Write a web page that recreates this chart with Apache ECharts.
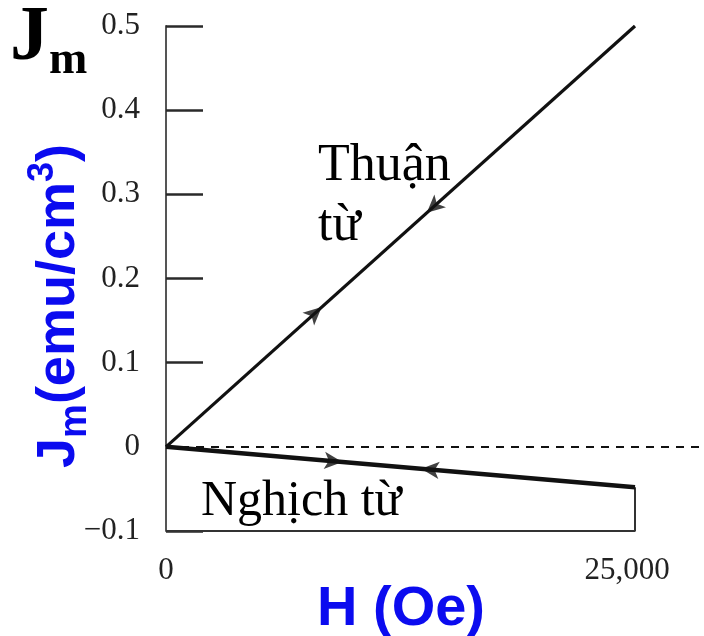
<!DOCTYPE html>
<html>
<head>
<meta charset="utf-8">
<script src="https://cdn.jsdelivr.net/npm/echarts@6/dist/echarts.min.js"></script>
<style>
  html, body { margin: 0; padding: 0; background: #fff; }
  #chart { width: 704px; height: 636px; }
</style>
</head>
<body>
<div id="chart"></div>
<script>
// Magnetisation J_m against applied field H: paramagnet (thuận từ) and diamagnet (nghịch từ)
const fieldH = [0, 25000];          // Oe
const paraJ = [0, 0.5];             // emu/cm3
const diaJ = [0, -0.048];           // emu/cm3
const yTickValues = [-0.1, 0.1, 0.2, 0.3, 0.4, 0.5];
const xLabelValues = [0, 25000];
const frameJ = -0.1;                // bottom edge of the box
// direction arrows on each curve: field where the arrow sits, +1 = increasing H, -1 = decreasing H
const paraArrowH = [8300, 13900];
const paraArrowDir = [1, -1];
const diaArrowH = [9400, 13600];
const diaArrowDir = [1, -1];

const BLUE = '#0b0bef';
const gridLeft = 166, gridRight = 0, gridTop = 26, gridBottom = 105;
const plotRightPx = 635;            // where 25,000 Oe falls
const xMax = fieldH[1] * (704 - gridRight - gridLeft) / (plotRightPx - gridLeft);

const chart = echarts.init(document.getElementById('chart'), null, { renderer: 'canvas' });

// text measuring for the hand-set labels (subscripts / superscripts)
const ctx = document.createElement('canvas').getContext('2d');
function fontStr(p) { return (p.weight || 'normal') + ' ' + p.size + 'px ' + "'" + p.family + "'"; }
function midToBaseline(p) {
  ctx.font = fontStr(p);
  ctx.textBaseline = 'middle';
  return ctx.measureText('H').actualBoundingBoxDescent;
}
function textWidth(p) { ctx.font = fontStr(p); return ctx.measureText(p.text).width; }
function run(pieces, x0, baseY) {
  let x = x0;
  const out = [];
  pieces.forEach(p => {
    out.push({
      type: 'text',
      x: x,
      y: baseY + (p.shift || 0) - midToBaseline(p),
      silent: true,
      style: {
        text: p.text, font: fontStr(p), fill: p.color,
        align: 'left', verticalAlign: 'middle',
        textAlign: 'left', textVerticalAlign: 'middle'
      }
    });
    x += textWidth(p) + (p.gap || 0);
  });
  return out;
}
function runWidth(pieces) { return pieces.reduce((s, p) => s + textWidth(p) + (p.gap || 0), 0); }

const serif = 'Liberation Serif', sans = 'Liberation Sans';

const yNamePieces = [
  { text: 'J', size: 54, weight: 'bold', family: sans, color: BLUE },
  { text: 'm', size: 38, weight: 'bold', family: sans, color: BLUE, shift: 12 },
  { text: '(emu/cm', size: 54, weight: 'bold', family: sans, color: BLUE },
  { text: '3', size: 36, weight: 'bold', family: sans, color: BLUE, shift: -21 },
  { text: ')', size: 54, weight: 'bold', family: sans, color: BLUE }
];
const xNamePieces = [{ text: 'H (Oe)', size: 56, weight: 'bold', family: sans, color: BLUE }];
const cornerPieces = [
  { text: 'J', size: 78, weight: 'bold', family: serif, color: '#000' },
  { text: 'm', size: 46, weight: 'bold', family: serif, color: '#000', shift: 14 }
];

const graphics = [].concat(
  run(cornerPieces, 10, 59),
  run([{ text: 'Thuận', size: 52, family: serif, color: '#000' }], 318, 180),
  run([{ text: 'từ', size: 52, family: serif, color: '#000' }], 318, 240),
  run([{ text: 'Nghịch từ', size: 50, family: serif, color: '#000' }], 201, 515),
  run(xNamePieces, 401 - runWidth(xNamePieces) / 2, 625),
  [{
    type: 'group', x: 74, y: 306 + runWidth(yNamePieces) / 2, rotation: Math.PI / 2,
    children: run(yNamePieces, 0, 0)
  }]
);

function lineJ(h, hs, js) {
  // point on the straight segment between the two end points
  return js[0] + (js[1] - js[0]) * (h - hs[0]) / (hs[1] - hs[0]);
}
function pairs(hs, js) { return hs.map((h, i) => [h, js[i]]); }

chart.setOption({
  animation: false,
  backgroundColor: '#fff',
  grid: { left: gridLeft, right: gridRight, top: gridTop, bottom: gridBottom, containLabel: false },
  xAxis: {
    type: 'value', min: 0, max: xMax, interval: 25000,
    axisLine: { show: false }, axisTick: { show: false }, splitLine: { show: false },
    axisLabel: {
      customValues: xLabelValues,
      margin: 24, fontFamily: serif, fontSize: 31, color: '#222',
      formatter: v => v > 0 ? '{r|' + Math.round(v).toLocaleString('en-US') + '}' : String(Math.round(v)),
      rich: { r: { fontFamily: serif, fontSize: 31, color: '#222', padding: [0, 16, 0, 0] } }
    }
  },
  yAxis: {
    type: 'value', min: -0.1, max: 0.5, interval: 0.1,
    axisLine: { show: true, lineStyle: { color: '#555', width: 2 } },
    axisTick: { show: true, inside: true, length: 37, customValues: yTickValues,
                lineStyle: { color: '#2a2a2a', width: 2.5 } },
    splitLine: { show: false },
    axisLabel: {
      margin: 26, fontFamily: serif, fontSize: 31, color: '#222',
      formatter: v => Math.abs(v) < 1e-9 ? '0' : (v < 0 ? '\u2212' + Math.abs(v).toFixed(1) : v.toFixed(1))
    }
  },
  graphic: graphics,
  series: [
    {
      id: 'para', name: 'Thuận từ', type: 'line', data: pairs(fieldH, paraJ),
      symbol: 'none', lineStyle: { color: '#111', width: 3.2 }, z: 3,
      markLine: {
        silent: true, symbol: 'none', label: { show: false },
        lineStyle: { type: [8, 7], color: '#111', width: 2 },
        data: [{ yAxis: 0 }]
      }
    },
    {
      id: 'dia', name: 'Nghịch từ', type: 'line', data: pairs(fieldH, diaJ),
      symbol: 'none', lineStyle: { color: '#111', width: 4.5 }, z: 3
    },
    {
      id: 'frame', name: 'frame', type: 'line',
      data: [[fieldH[0], frameJ], [fieldH[1], frameJ], [fieldH[1], diaJ[1]]],
      symbol: 'none', lineStyle: { color: '#333', width: 2 }, z: 2
    }
  ]
});

// arrow heads follow the on-screen direction of each line
function arrowData(hs, js, arrowH, dirs) {
  const p0 = chart.convertToPixel({ gridIndex: 0 }, [hs[0], js[0]]);
  const p1 = chart.convertToPixel({ gridIndex: 0 }, [hs[1], js[1]]);
  const ang = Math.atan2(-(p1[1] - p0[1]), p1[0] - p0[0]) * 180 / Math.PI;
  return arrowH.map((h, i) => ({
    value: [h, lineJ(h, hs, js)],
    symbolRotate: (dirs[i] > 0 ? ang : ang + 180) - 90
  }));
}
chart.setOption({
  series: [{
    id: 'arrows', name: 'arrows', type: 'scatter', z: 5, silent: true,
    symbol: 'arrow', symbolSize: [13, 18],
    itemStyle: { color: '#111' },
    data: arrowData(fieldH, paraJ, paraArrowH, paraArrowDir)
      .concat(arrowData(fieldH, diaJ, diaArrowH, diaArrowDir))
  }]
});
</script>
</body>
</html>
